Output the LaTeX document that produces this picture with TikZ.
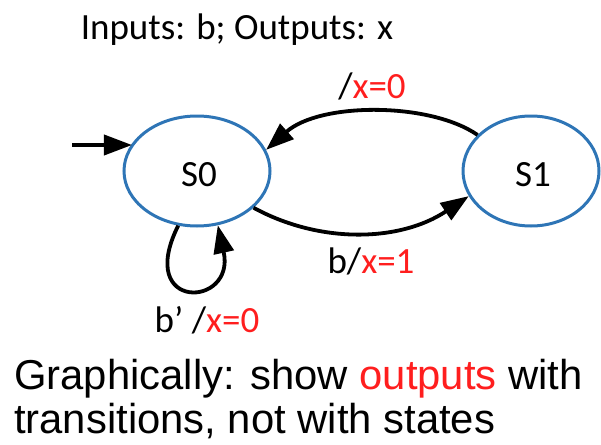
\documentclass[tikz,border=0pt]{standalone}
\usepackage{fontspec}
\setmainfont{Carlito}
\newfontfamily\arialf{Liberation Sans}
\usetikzlibrary{arrows.meta,shapes.geometric}
\definecolor{stblue}{RGB}{46,117,182}
\definecolor{outred}{RGB}{255,30,30}
\tikzset{
  state/.style={ellipse, draw=stblue, line width=3pt, minimum width=146pt, minimum height=110pt, inner sep=0pt},
  trans/.style={line width=3.8pt, -{Triangle[length=28pt,width=20pt]}},
  lbl/.style={font=\fontsize{37}{44}\selectfont, inner sep=0pt, anchor=base},
}
\begin{document}
\begin{tikzpicture}[x=1pt,y=-1pt]
\useasboundingbox (0,0) rectangle (601,444);
\node[lbl] (title) at (237,39) {Inputs: b; Outputs: x};
\node[state] (s0) at (197,171) {};
\node[state, minimum width=136pt] (s1) at (531,171) {};
\node[lbl] (t0) at (199,186) {S0};
\node[lbl] (t1) at (533,186) {S1};
\coordinate (init) at (72,145);
\draw[trans] (init) -- (init -| s0.157);
\draw[trans] (s1.146) .. controls (430,102) and (320,102) .. (s0.17);
\draw[trans] (s0.-33) .. controls (320,244) and (400,242) .. (s1.-158);
\draw[trans] (s0.-109) .. controls (135,312) and (236,308) .. (s0.-69);
\node[lbl] (l1) at (372,98) {/\textcolor{outred}{x=0}};
\node[lbl] (l2) at (371,273) {b/\textcolor{outred}{x=1}};
\node[lbl] (l3) at (207,332) {b’ /\textcolor{outred}{x=0}};
\node[font=\arialf\fontsize{41.8}{44}\selectfont, align=left, anchor=base west, inner sep=0pt] (bottom) at (14,433) {Graphically: show \textcolor{outred}{outputs} with\\transitions, not with states};
\end{tikzpicture}
\end{document}
